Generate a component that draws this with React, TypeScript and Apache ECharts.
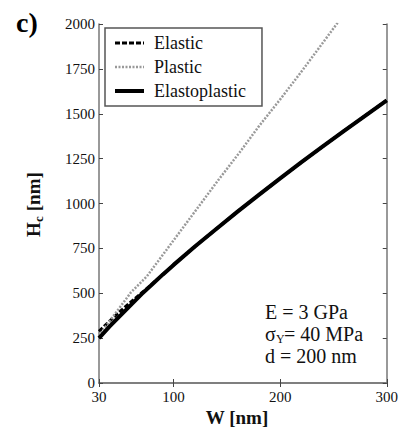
import React, { useEffect, useRef } from "react";
import * as echarts from "echarts";

// Contact width W [nm]
const W = [30, 40, 50, 60, 70, 80, 90, 100, 120, 140, 160, 180, 200, 220, 240, 260, 280, 300];

// Contact height Hc [nm] for each model
const elasticH = [288, 345, 400, 452, 502, 552, 605, 658, 760, 858, 955, 1048, 1140, 1230, 1318, 1405, 1490, 1575];
const elastoplasticH = [250, 315, 375, 435, 495, 550, 605, 658, 760, 858, 955, 1048, 1140, 1230, 1318, 1405, 1490, 1575];

const plasticW = [30, 40, 50, 60, 75, 90, 100, 120, 142, 162, 180, 200, 220, 240, 253, 265];
const plasticH = [262, 345, 425, 505, 595, 715, 795, 955, 1131, 1285, 1430, 1580, 1735, 1895, 2000, 2095];

const xTicks = [30, 100, 200, 300];
const legendNames = ["Elastic", "Plastic", "Elastoplastic"];
const paramLines = ["E = 3 GPa", "= 40 MPa", "d = 200 nm"];

const pairs = (xs: number[], ys: number[]) => xs.map((x, i) => [x, ys[i]]);

const SERIF = "Liberation Serif, serif";
const AXIS_COLOR = "#777";

// Line styles shared by each series and its legend sample
const lineStyles = [
  { color: "#000", width: 3, type: [5, 2] },
  { color: "#999", width: 2.5, type: [2, 1.5] },
  { color: "#000", width: 4, type: "solid" },
];

export default function App() {
  const ref = useRef<HTMLDivElement>(null);

  useEffect(() => {
    if (!ref.current) return;
    const chart = echarts.init(ref.current, undefined, { renderer: "svg" });

    const axisLine = { show: true, lineStyle: { color: AXIS_COLOR, width: 1.5 } };
    const tickStyle = { lineStyle: { color: "#444", width: 1 } };
    const plain = (v: number) => String(v);

    chart.setOption({
      animation: false,
      backgroundColor: "#fff",
      textStyle: { fontFamily: SERIF },
      grid: { left: 99, top: 24, width: 288, height: 359, containLabel: false },
      legend: {
        data: legendNames.map((name, i) => ({ name, lineStyle: { ...lineStyles[i] } })),
        orient: "vertical",
        left: 105,
        top: 28,
        itemWidth: 29,
        itemHeight: 14,
        itemGap: 6,
        padding: [6, 16, 6, 8],
        borderColor: "#555",
        borderWidth: 1.5,
        backgroundColor: "#fff",
        selectedMode: false,
        // only the line sample is shown, the marker is hidden
        itemStyle: { opacity: 0, color: "rgba(0,0,0,0)", borderWidth: 0 },
        textStyle: { fontFamily: SERIF, fontSize: 18, color: "#111", padding: [0, 0, 0, 5] },
      },
      xAxis: [
        {
          type: "value",
          min: 30,
          max: 300,
          axisLine,
          splitLine: { show: false },
          axisTick: { show: true, inside: true, length: 4, customValues: xTicks, ...tickStyle },
          axisLabel: {
            customValues: xTicks,
            formatter: plain,
            fontFamily: SERIF,
            fontSize: 15,
            color: "#111",
            margin: 6,
          },
        },
        {
          type: "value",
          position: "top",
          min: 30,
          max: 300,
          axisLine,
          splitLine: { show: false },
          axisTick: { show: true, inside: true, length: 4, customValues: xTicks, ...tickStyle },
          axisLabel: { show: false },
        },
      ],
      yAxis: [
        {
          type: "value",
          min: 0,
          max: 2000,
          interval: 250,
          axisLine,
          splitLine: { show: false },
          axisTick: { show: true, inside: true, length: 4, ...tickStyle },
          axisLabel: { formatter: plain, fontFamily: SERIF, fontSize: 15, color: "#111", margin: 4 },
        },
        {
          type: "value",
          position: "right",
          min: 0,
          max: 2000,
          interval: 250,
          axisLine,
          splitLine: { show: false },
          axisTick: { show: true, inside: true, length: 4, ...tickStyle },
          axisLabel: { show: false },
        },
      ],
      series: [
        {
          name: "Elastic",
          type: "line",
          symbol: "none",
          data: pairs(W, elasticH),
          lineStyle: lineStyles[0],
          itemStyle: { color: lineStyles[0].color },
        },
        {
          name: "Plastic",
          type: "line",
          symbol: "none",
          data: pairs(plasticW, plasticH),
          lineStyle: lineStyles[1],
          itemStyle: { color: lineStyles[1].color },
        },
        {
          name: "Elastoplastic",
          type: "line",
          symbol: "none",
          data: pairs(W, elastoplasticH),
          lineStyle: lineStyles[2],
          itemStyle: { color: lineStyles[2].color },
        },
      ],
      graphic: [
        {
          type: "text",
          left: 16,
          top: 8,
          style: { text: "c)", fontFamily: SERIF, fontSize: 28, fontWeight: "bold", fill: "#000" },
        },
        {
          type: "text",
          x: 237,
          y: 417,
          style: {
            text: "W [nm]",
            fontFamily: SERIF,
            fontSize: 19,
            fontWeight: "bold",
            fill: "#111",
            align: "center",
            verticalAlign: "middle",
          },
        },
        {
          type: "group",
          x: 33,
          y: 205,
          rotation: Math.PI / 2,
          children: [
            {
              type: "text",
              x: -32,
              y: 0,
              style: { text: "H", fontFamily: SERIF, fontSize: 19, fontWeight: "bold", fill: "#111", verticalAlign: "middle" },
            },
            {
              type: "text",
              x: -17,
              y: 5,
              style: { text: "c", fontFamily: SERIF, fontSize: 13, fontWeight: "bold", fill: "#111", verticalAlign: "middle" },
            },
            {
              type: "text",
              x: -11,
              y: 0,
              style: { text: " [nm]", fontFamily: SERIF, fontSize: 19, fontWeight: "bold", fill: "#111", verticalAlign: "middle" },
            },
          ],
        },
        {
          type: "text",
          x: 265,
          y: 312,
          style: { text: paramLines[0], fontFamily: SERIF, fontSize: 20, fill: "#111", verticalAlign: "middle" },
        },
        {
          type: "text",
          x: 265,
          y: 334,
          style: { text: "σ", fontFamily: SERIF, fontSize: 20, fill: "#111", verticalAlign: "middle" },
        },
        {
          type: "text",
          x: 276,
          y: 339,
          style: { text: "Y", fontFamily: SERIF, fontSize: 12, fill: "#111", verticalAlign: "middle" },
        },
        {
          type: "text",
          x: 284,
          y: 334,
          style: { text: paramLines[1], fontFamily: SERIF, fontSize: 20, fill: "#111", verticalAlign: "middle" },
        },
        {
          type: "text",
          x: 265,
          y: 356,
          style: { text: paramLines[2], fontFamily: SERIF, fontSize: 20, fill: "#111", verticalAlign: "middle" },
        },
      ],
    });

    return () => chart.dispose();
  }, []);

  return (
    <div
      ref={ref}
      style={{ position: "absolute", left: 0, top: 0, width: 401, height: 430, background: "#fff" }}
    />
  );
}
